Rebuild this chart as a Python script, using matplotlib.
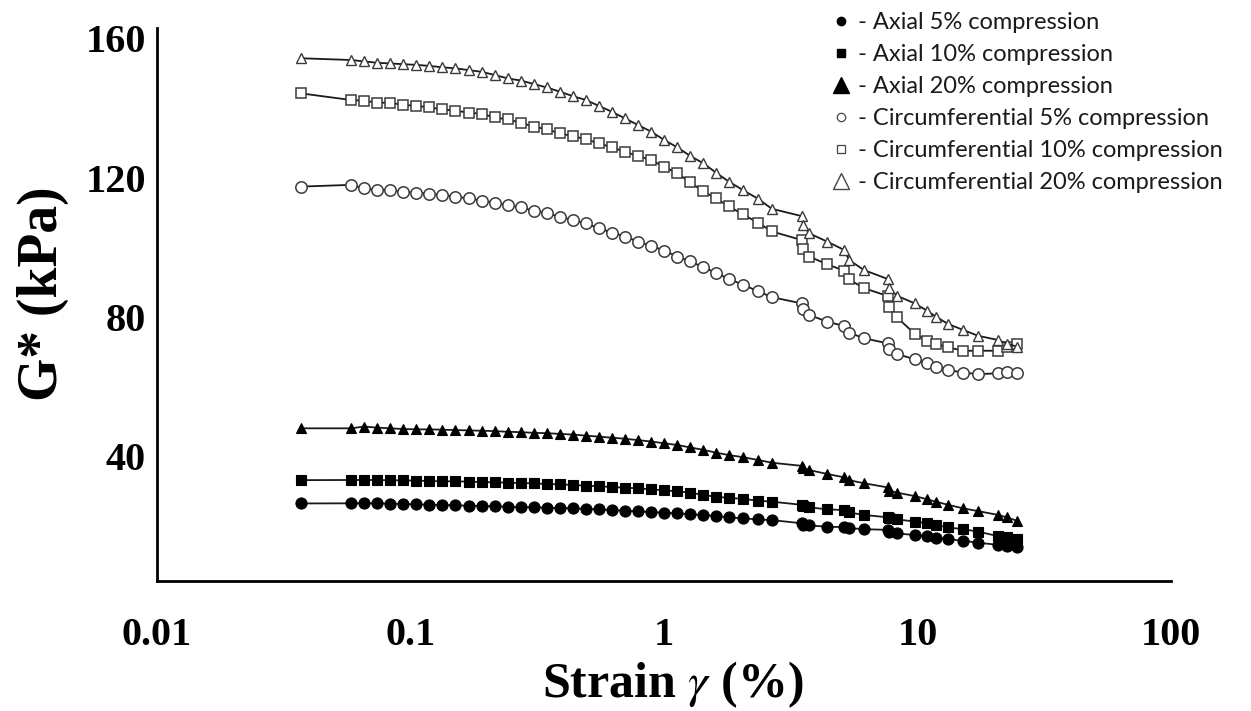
import matplotlib
matplotlib.use("Agg")
import matplotlib.pyplot as plt
from matplotlib.lines import Line2D

# ---------------- data ----------------
strain = [0.0370,
          0.05824, 0.06558, 0.07384, 0.08314, 0.09359, 0.1054, 0.1187, 0.1336, 0.1504, 0.1694,
          0.1907, 0.2147, 0.2417, 0.2721, 0.3062, 0.3448, 0.3881, 0.4370, 0.4919, 0.5539,
          0.6235, 0.7020, 0.7903, 0.8899, 1.002, 1.128, 1.270, 1.430,
          1.604, 1.805, 2.049, 2.349, 2.667,
          3.503, 3.535, 3.733, 4.395, 5.131, 5.369, 6.152, 7.648, 7.718, 8.300,
          9.775, 10.90, 11.83, 13.20, 15.12, 17.33, 20.78, 22.55, 24.69]

axial_5 = [26.3,
           26.33, 26.33, 26.33, 26.23, 26.14, 26.04, 25.95, 25.85, 25.75, 25.66,
           25.56, 25.47, 25.37, 25.27, 25.18, 25.08, 24.99, 24.89, 24.70, 24.60,
           24.41, 24.22, 24.03, 23.84, 23.65, 23.45, 23.17, 22.97,
           22.7, 22.3, 22.0, 21.7, 21.5,
           20.6, 20.2, 20.0, 19.6, 19.5, 19.2, 18.9, 18.7, 18.2, 17.7,
           17.2, 16.8, 16.5, 16.0, 15.6, 15.0, 14.4, 14.1, 13.7]

axial_10 = [33.0,
            33.04, 33.04, 33.04, 32.94, 32.94, 32.85, 32.75, 32.66, 32.66, 32.56,
            32.46, 32.37, 32.27, 32.18, 32.08, 31.89, 31.79, 31.60, 31.41, 31.22,
            31.03, 30.83, 30.64, 30.36, 30.07, 29.78, 29.40, 28.73,
            28.2, 27.9, 27.6, 27.1, 26.8,
            25.9, 25.5, 25.2, 24.6, 24.4, 23.7, 23.0, 22.3, 22.0, 21.7,
            21.1, 20.6, 20.1, 19.4, 18.9, 18.2, 16.9, 16.6, 16.0]

axial_20 = [47.9,
            47.9, 48.4, 48.1, 47.9, 47.7, 47.6, 47.6, 47.5, 47.4, 47.3,
            47.2, 47.1, 46.9, 46.8, 46.6, 46.5, 46.3, 46.1, 45.8, 45.5,
            45.2, 44.9, 44.5, 44.1, 43.6, 43.1, 42.4, 41.7,
            40.9, 40.2, 39.6, 38.8, 38.0,
            37.1, 36.4, 35.9, 34.8, 33.8, 33.0, 32.1, 30.9, 30.0, 29.4,
            28.4, 27.5, 26.8, 25.9, 24.9, 24.1, 23.0, 22.3, 21.3]

circ_5 = [117.4,
          117.9, 116.9, 116.4, 116.4, 115.9, 115.7, 115.3, 115.0, 114.5, 114.0,
          113.4, 112.8, 112.1, 111.4, 110.5, 109.8, 108.7, 107.8, 106.8, 105.4,
          104.2, 103.0, 101.6, 100.4, 99.0, 97.3, 95.9, 94.2,
          92.6, 90.8, 89.2, 87.3, 85.6,
          83.8, 82.1, 80.5, 78.6, 77.3, 75.4, 73.8, 72.3, 70.6, 69.3,
          67.7, 66.8, 65.6, 64.7, 63.9, 63.5, 63.7, 64.2, 63.9]

circ_10 = [144.2,
           142.3, 142.1, 141.5, 141.5, 140.9, 140.6, 140.2, 139.6, 139.2, 138.7,
           138.3, 137.3, 136.7, 135.8, 134.6, 133.9, 132.7, 131.9, 131.0, 129.8,
           128.7, 127.4, 126.2, 125.0, 123.1, 121.2, 118.6, 116.0,
           114.0, 111.7, 109.4, 107.0, 104.5,
           102.0, 99.4, 97.3, 95.1, 93.2, 90.7, 88.2, 85.9, 82.7, 79.8,
           75.0, 73.1, 72.1, 71.2, 70.2, 70.2, 70.2, 71.2, 72.1]

circ_20 = [154.3,
           153.8, 153.4, 153.0, 152.8, 152.6, 152.4, 152.1, 151.7, 151.4, 150.9,
           150.4, 149.5, 148.5, 147.9, 146.9, 145.9, 144.7, 143.4, 142.3, 140.6,
           138.9, 137.0, 135.1, 133.2, 130.8, 128.7, 126.2, 124.1,
           121.4, 118.8, 116.4, 113.9, 111.0,
           108.9, 106.4, 104.0, 101.6, 99.2, 96.3, 93.4, 90.8, 88.2, 86.0,
           83.8, 81.7, 80.0, 77.9, 76.2, 74.5, 73.3, 72.2, 71.4]

labels = ["- Axial 5% compression",
          "- Axial 10% compression",
          "- Axial 20% compression",
          "- Circumferential 5% compression",
          "- Circumferential 10% compression",
          "- Circumferential 20% compression"]

x_ticks = [0.01, 0.1, 1, 10, 100]
x_ticklabels = ["0.01", "0.1", "1", "10", "100"]
y_ticks = [40, 80, 120, 160]
y_ticklabels = ["40", "80", "120", "160"]

# ---------------- figure ----------------
plt.rcParams['mathtext.fontset'] = 'stix'
fig = plt.figure(figsize=(12.51, 7.11), dpi=100)
ax = fig.add_axes([157/1251, 1-581/711, (1171-157)/1251, (581-28)/711])

line_kw = dict(color='#1a1a1a', lw=1.3)
open_edge = '#3a3a3a'

series = [
    (axial_5,  dict(marker='o', ms=8.0, mfc='black', mec='black', mew=0.8)),
    (axial_10, dict(marker='s', ms=7.0, mfc='black', mec='black', mew=0.8)),
    (axial_20, dict(marker='^', ms=7.0, mfc='black', mec='black', mew=0.8)),
    (circ_5,   dict(marker='o', ms=8.2, mfc='white', mec=open_edge, mew=1.1)),
    (circ_10,  dict(marker='s', ms=7.4, mfc='white', mec=open_edge, mew=1.1)),
    (circ_20,  dict(marker='^', ms=6.8, mfc='white', mec=open_edge, mew=1.0)),
]
for vals, mk in series:
    ax.plot(strain, vals, **line_kw, **mk)

ax.set_xscale('log')
ax.set_xlim(0.01, 100)
ax.set_ylim(4, 163)
ax.set_xticks(x_ticks)
ax.set_xticklabels(x_ticklabels)
ax.xaxis.set_minor_locator(matplotlib.ticker.NullLocator())
ax.set_yticks(y_ticks)
ax.set_yticklabels(y_ticklabels)

for lab in ax.get_xticklabels() + ax.get_yticklabels():
    lab.set_fontfamily('Liberation Serif')
    lab.set_fontweight('bold')
    lab.set_fontsize(29)
ax.tick_params(axis='both', which='both', length=0)
ax.tick_params(axis='x', pad=26)
ax.tick_params(axis='y', pad=8)

for s in ['top', 'right']:
    ax.spines[s].set_visible(False)
for s in ['left', 'bottom']:
    ax.spines[s].set_linewidth(2.0)
    ax.spines[s].set_color('black')

ax.set_ylabel("G* (kPa)", fontfamily='Liberation Serif', fontweight='bold', fontsize=40,
              va='center')
ax.yaxis.set_label_coords(-0.113, 0.52)
ax.set_xlabel(r"Strain $\gamma$ (%)", fontfamily='Liberation Serif', fontweight='bold',
              fontsize=36, va='center')
ax.xaxis.set_label_coords(0.509, -0.188)

# legend
handles = [
    Line2D([], [], ls='none', marker='o', ms=6, mfc='black', mec='black'),
    Line2D([], [], ls='none', marker='s', ms=6, mfc='black', mec='black'),
    Line2D([], [], ls='none', marker='^', ms=11, mfc='black', mec='black'),
    Line2D([], [], ls='none', marker='o', ms=6, mfc='white', mec='#444444', mew=0.9),
    Line2D([], [], ls='none', marker='s', ms=6, mfc='white', mec='#444444', mew=0.9),
    Line2D([], [], ls='none', marker='^', ms=11, mfc='white', mec='#444444', mew=1.0),
]
leg = fig.legend(handles, labels, loc='upper left', bbox_to_anchor=(832/1251, 1-12/711),
                 frameon=False, prop=dict(family='Lato', size=17),
                 handlelength=0.8, handletextpad=0.3, labelspacing=0.47, borderpad=0,
                 borderaxespad=0)
for t in leg.get_texts():
    t.set_color('#1a1a1a')

fig.savefig("out.png", dpi=100)
